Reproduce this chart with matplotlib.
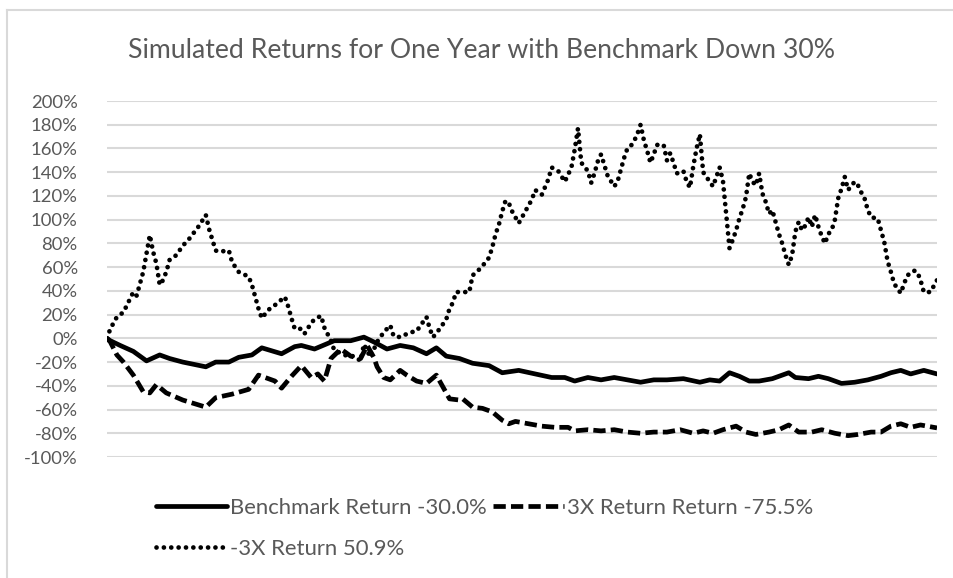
import matplotlib
matplotlib.use("Agg")
from matplotlib import pyplot as plt
from matplotlib.lines import Line2D

# trading day index and cumulative return (%)
bench_days = [0, 1, 4, 8, 12, 16, 19, 23, 30, 33, 37, 40, 44, 47, 53, 57, 59, 63, 69, 74,
              78, 81, 85, 89, 93, 97, 100, 103, 107, 111, 116, 120, 125, 130, 135, 139, 142, 146, 150, 154,
              158, 162, 166, 170, 175, 180, 183, 186, 189, 192, 195, 198, 202, 207, 209, 213, 216, 219, 223, 227,
              231, 235, 238, 241, 244, 248, 252]
bench_ret = [0, -2, -6, -11, -19, -14, -17, -20, -24, -20, -20, -16, -14, -8, -13, -7, -6, -9, -2, -2,
             1, -3, -9, -6, -8, -13, -8, -15, -17, -21, -23, -29, -27, -30, -33, -33, -36, -33, -35, -33,
             -35, -37, -35, -35, -34, -37, -35, -36, -29, -32, -36, -36, -34, -29, -33, -34, -32, -34, -38, -37,
             -35, -32, -29, -27, -30, -27, -30]

lev_days = [0, 1, 3, 5, 8, 11, 13, 15, 18, 23, 30, 33, 38, 43, 46, 51, 53, 56, 59, 62,
            64, 66, 68, 71, 74, 77, 79, 81, 82, 84, 86, 89, 91, 94, 97, 100, 102, 104, 107, 108,
            111, 114, 117, 120, 122, 124, 128, 132, 136, 140, 142, 146, 150, 154, 158, 162, 166, 170, 174, 178,
            181, 184, 187, 191, 194, 197, 201, 204, 207, 210, 214, 217, 221, 225, 228, 232, 235, 238, 241, 244,
            247, 252]
lev_ret = [0, -3, -14, -20, -31, -45, -46, -39, -46, -52, -58, -50, -47, -43, -31, -36, -42, -32, -23, -33,
           -30, -36, -17, -9, -15, -17, -6, -16, -24, -33, -35, -27, -31, -36, -38, -31, -41, -51, -52, -51,
           -58, -59, -62, -69, -72, -70, -72, -74, -75, -75, -78, -77, -78, -77, -79, -80, -79, -79, -77, -80,
           -78, -80, -77, -74, -79, -81, -79, -77, -73, -79, -79, -77, -80, -82, -81, -79, -79, -74, -72, -75,
           -73, -75.5]

inv_days = [0, 1, 3, 5, 8, 9, 11, 13, 14, 15, 16, 17, 18, 19, 21, 23, 25, 28, 30, 31,
            33, 34, 37, 38, 40, 43, 44, 46, 47, 49, 51, 54, 55, 56, 57, 59, 60, 62, 63, 65,
            66, 68, 69, 73, 75, 77, 78, 80, 82, 84, 86, 87, 89, 92, 94, 97, 98, 99, 101, 103,
            104, 105, 106, 110, 111, 113, 114, 116, 117, 118, 119, 120, 121, 122, 123, 125, 127, 129, 130, 132,
            134, 135, 137, 139, 141, 142, 143, 144, 146, 147, 148, 149, 150, 151, 152, 154, 155, 156, 157, 158,
            159, 160, 161, 162, 163, 164, 165, 166, 167, 169, 170, 171, 172, 173, 175, 176, 177, 178, 179, 180,
            181, 183, 184, 185, 186, 187, 189, 190, 191, 192, 193, 194, 195, 196, 197, 198, 199, 200, 201, 202,
            203, 204, 205, 206, 207, 208, 209, 210, 211, 212, 213, 214, 215, 216, 217, 218, 219, 220, 221, 222,
            223, 224, 225, 227, 228, 229, 230, 231, 232, 234, 235, 236, 237, 238, 239, 241, 242, 243, 245, 246,
            247, 248, 250, 252]
inv_ret = [0, 8, 18, 22, 39, 36, 56, 87, 73, 63, 45, 49, 56, 66, 70, 78, 84, 95, 104, 92,
           74, 73, 74, 64, 56, 52, 45, 25, 17, 24, 28, 35, 27, 17, 8, 8, 4, 13, 16, 19,
           9, -2, -10, -15, -15, -19, -5, -16, -3, 5, 11, 2, 1, 5, 6, 18, 8, 1, 8, 16,
           25, 30, 39, 39, 53, 58, 61, 68, 77, 88, 96, 107, 116, 114, 107, 97, 107, 117, 125, 121,
           134, 144, 141, 132, 144, 159, 177, 148, 141, 131, 139, 149, 155, 146, 137, 128, 132, 142, 152, 160,
           162, 166, 172, 180, 167, 158, 148, 155, 163, 163, 150, 156, 148, 139, 141, 132, 127, 145, 160, 172,
           140, 132, 128, 136, 144, 133, 76, 83, 91, 101, 109, 119, 139, 132, 129, 139, 122, 115, 105, 108,
           98, 88, 80, 70, 62, 70, 90, 98, 91, 95, 102, 94, 104, 94, 86, 80, 88, 91, 100, 118,
           126, 136, 125, 132, 129, 123, 118, 108, 102, 101, 91, 81, 65, 56, 46, 38, 46, 53, 57, 56,
           49, 39, 39, 49]

y_ticks = list(range(-100, 201, 20))

TITLE = "Simulated Returns for One Year with Benchmark Down 30%"
LABELS = ["Benchmark Return -30.0%", "3X Return Return -75.5%", "-3X Return 50.9%"]

TEXT_COLOR = "#595959"
GRID_COLOR = "#d9d9d9"
FONT = "Lato"

plt.rcParams['font.family'] = [FONT, 'DejaVu Sans']

W, H = 954, 578
fig = plt.figure(figsize=(W / 100, H / 100), dpi=100)
ax = fig.add_axes([107 / W, 1 - 457 / H, 830 / W, 356 / H])

ax.plot(bench_days, bench_ret, color="black", lw=3.4, solid_joinstyle="round",
        solid_capstyle="round", label=LABELS[0])
ax.plot(lev_days, lev_ret, color="black", lw=3.4, dashes=(2.6, 1.1),
        dash_capstyle="butt", label=LABELS[1])
ax.plot(inv_days, inv_ret, color="black", lw=3.4, dashes=(0.01, 1.55),
        dash_capstyle="round", label=LABELS[2])

ax.set_xlim(0, 252)
ax.set_ylim(-100, 200)
ax.set_yticks(y_ticks)
ax.set_yticklabels([f"{v}%" for v in y_ticks])
ax.set_xticks([])
ax.tick_params(axis="y", length=0, pad=21, labelsize=13.3, labelcolor=TEXT_COLOR)
ax.grid(axis="y", color=GRID_COLOR, lw=1.5)
ax.set_axisbelow(True)
for s in ax.spines.values():
    s.set_visible(False)

fig.text(0.505, 1 - 50 / H, TITLE, ha="center", va="center", fontsize=19.2, color=TEXT_COLOR)

# outer chart frame (left and top edges visible in the reference)
fig.add_artist(Line2D([7 / W, 7 / W], [0, 1 - 10 / H], color=GRID_COLOR, lw=1.5))
fig.add_artist(Line2D([7 / W, 1], [1 - 10 / H, 1 - 10 / H], color=GRID_COLOR, lw=1.5))

h, l = ax.get_legend_handles_labels()
order = [0, 2, 1]
fig.legend([h[i] for i in order], [l[i] for i in order], ncol=2, frameon=False,
           loc="upper left", bbox_to_anchor=(156 / W, 1 - 498 / H), borderpad=0, borderaxespad=0,
           fontsize=15.9, labelcolor=TEXT_COLOR, handlelength=3.2, handletextpad=0.15,
           columnspacing=0.3, labelspacing=0.95)

plt.savefig("out.png", dpi=100)
